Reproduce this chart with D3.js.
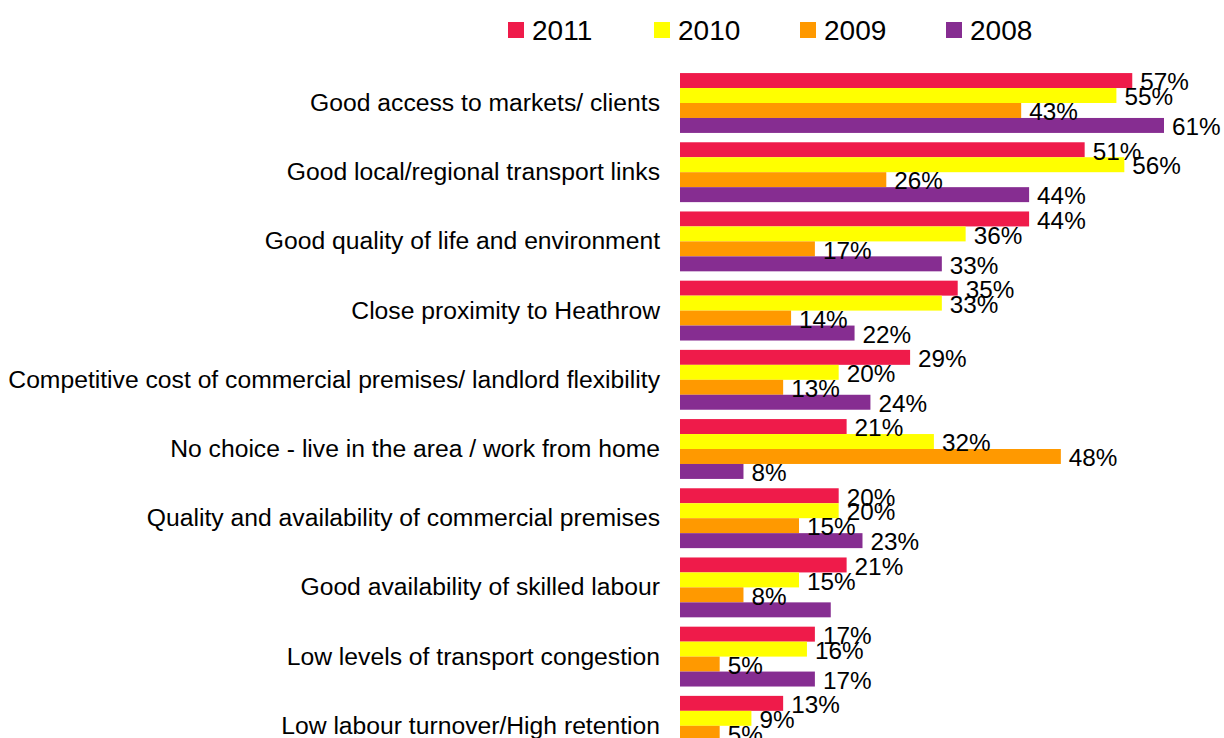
<!DOCTYPE html>
<html>
<head>
<meta charset="utf-8">
<script src="https://cdn.jsdelivr.net/npm/d3@7"></script>
<style>
  html, body { margin: 0; padding: 0; background: #fff; overflow: hidden; }
  svg { display: block; font-family: "Liberation Sans", Arial, sans-serif; }
</style>
</head>
<body>
<svg id="chart" width="1224" height="738"></svg>
<script>
// Reasons for business location, share of respondents (%) by survey year
const categories = [
  "Good access to markets/ clients",
  "Good local/regional transport links",
  "Good quality of life and environment",
  "Close proximity to Heathrow",
  "Competitive cost of commercial premises/ landlord flexibility",
  "No choice - live in the area / work from home",
  "Quality and availability of commercial premises",
  "Good availability of skilled labour",
  "Low levels of transport congestion",
  "Low labour turnover/High retention"
];
const seriesNames = ["2011", "2010", "2009", "2008"];
const values2011 = [57, 51, 44, 35, 29, 21, 20, 21, 17, 13];
const values2010 = [55, 56, 36, 33, 20, 32, 20, 15, 16, 9];
const values2009 = [43, 26, 17, 14, 13, 48, 15, 8, 5, 5];
const values2008 = [61, 44, 33, 22, 24, 8, 23, 19, 17, null];
// value labels that are left off the chart: [category index, series index]
const unlabelled = [[7, 3]];
const colors = ["#EF1B4A", "#FFFF00", "#FF9900", "#862D91"];

const seriesValues = [values2011, values2010, values2009, values2008];

const svg = d3.select("#chart");

const x = d3.scaleLinear().domain([0, 61]).range([680, 1164]);

const y0 = d3.scaleBand()
  .domain(categories)
  .range([68.4, 68.4 + categories.length * 69.2])
  .paddingInner(0.135)
  .paddingOuter(0.0675);

const y1 = d3.scaleBand()
  .domain(seriesNames)
  .range([0, y0.bandwidth()]);

const color = d3.scaleOrdinal().domain(seriesNames).range(colors);

// flatten into one record per bar
const rows = [];
categories.forEach((c, i) => {
  seriesNames.forEach((s, j) => {
    const v = seriesValues[j][i];
    if (v == null) return;
    const hidden = unlabelled.some(([a, b]) => a === i && b === j);
    rows.push({ category: c, series: s, value: v, showLabel: !hidden });
  });
});

const groups = svg.append("g");

groups.selectAll("rect.bar")
  .data(rows)
  .join("rect")
  .attr("class", "bar")
  .attr("x", x(0))
  .attr("y", d => y0(d.category) + y1(d.series))
  .attr("width", d => x(d.value) - x(0))
  .attr("height", y1.bandwidth())
  .attr("fill", d => color(d.series));

groups.selectAll("text.val")
  .data(rows.filter(d => d.showLabel))
  .join("text")
  .attr("class", "val")
  .attr("x", d => x(d.value) + 8)
  .attr("y", d => y0(d.category) + y1(d.series) + y1.bandwidth() / 2 + 1)
  .attr("dy", "0.36em")
  .attr("font-size", 24.3)
  .attr("fill", "#000")
  .text(d => d.value + "%");

// category axis labels
const yAxis = d3.axisLeft(y0).tickSize(0).tickPadding(20);
const axisG = svg.append("g")
  .attr("transform", `translate(${x(0)},0)`)
  .call(yAxis);
axisG.select(".domain").remove();
axisG.selectAll("text")
  .attr("font-size", 24.7)
  .attr("font-family", "Liberation Sans, Arial, sans-serif")
  .attr("fill", "#000");

// legend
const legend = svg.append("g");
const legendX = d3.scalePoint().domain(seriesNames).range([508, 946]);
const items = legend.selectAll("g")
  .data(seriesNames)
  .join("g")
  .attr("transform", d => `translate(${legendX(d)},22)`);
items.append("rect")
  .attr("width", 16).attr("height", 16)
  .attr("fill", d => color(d));
items.append("text")
  .attr("x", 24).attr("y", 8)
  .attr("dy", "0.36em")
  .attr("font-size", 28)
  .attr("fill", "#000")
  .text(d => d);
</script>
</body>
</html>
